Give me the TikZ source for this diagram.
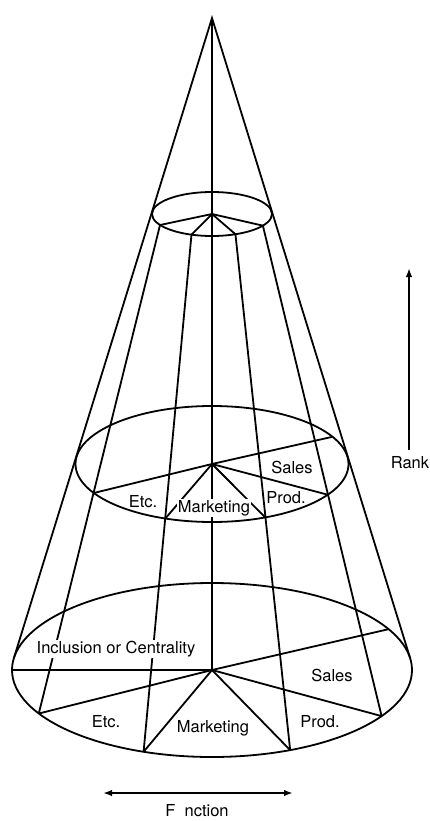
\documentclass[tikz,border=0pt]{standalone}
\usepackage{fontspec}
\setmainfont{TeX Gyre Heros}
\usetikzlibrary{calc,arrows.meta}

\begin{document}
\begin{tikzpicture}[
  x=1pt,
  y=1pt,
  font=\fontsize{16.5}{18}\selectfont,
  >={Latex[length=9pt, width=6.5pt]},
  rim/.style={draw=black, line width=1.8pt},
  spoke/.style={draw=black, line width=1.8pt},
  axisline/.style={draw=black, line width=1.3pt},
  sector/.style={fill=white, inner sep=1pt, anchor=base},
  dimension/.style={draw=black, line width=1.8pt}
]

\useasboundingbox (0,0) rectangle (430,-821);

% Apex and the centres of the three cuts through the cone.
\coordinate (apex) at (212,-18);
\coordinate (ctop) at (212,-214);
\coordinate (cmid) at (212,-464);
\coordinate (cbot) at (212,-670);

% Points on the top cut.
\coordinate (t210) at ($(ctop)+(210:60pt and 22pt)$);
\coordinate (t250) at ($(ctop)+(250:60pt and 22pt)$);
\coordinate (t293) at ($(ctop)+(293:60pt and 22pt)$);
\coordinate (t328) at ($(ctop)+(328:60pt and 22pt)$);

% Points on the middle cut.
\coordinate (m28) at ($(cmid)+(28:136.5pt and 58pt)$);
\coordinate (m210) at ($(cmid)+(210:136.5pt and 58pt)$);
\coordinate (m250) at ($(cmid)+(250:136.5pt and 58pt)$);
\coordinate (m293) at ($(cmid)+(293:136.5pt and 58pt)$);
\coordinate (m328) at ($(cmid)+(328:136.5pt and 58pt)$);

% Points on the bottom cut, with the two tangent points of the outline.
\coordinate (b28) at ($(cbot)+(28:200pt and 87pt)$);
\coordinate (b180) at ($(cbot)+(180:200pt and 87pt)$);
\coordinate (b210) at ($(cbot)+(210:200pt and 87pt)$);
\coordinate (b250) at ($(cbot)+(250:200pt and 87pt)$);
\coordinate (b293) at ($(cbot)+(293:200pt and 87pt)$);
\coordinate (b328) at ($(cbot)+(328:200pt and 87pt)$);
\coordinate (bleft) at ($(cbot)+(172.3:200pt and 87pt)$);
\coordinate (bright) at ($(cbot)+(7.7:200pt and 87pt)$);

\draw[axisline] (apex) -- (cbot);
\draw[rim] (bleft) -- (apex) -- (bright);

\draw[rim] (t210) -- (b210);
\draw[rim] (t250) -- (b250);
\draw[rim] (t293) -- (b293);
\draw[rim] (t328) -- (b328);

\draw[rim] (ctop) ellipse [x radius=60pt, y radius=22pt];
\draw[rim] (cmid) ellipse [x radius=136.5pt, y radius=58pt];
\draw[rim] (cbot) ellipse [x radius=200pt, y radius=87pt];

\draw[spoke] (ctop) -- (t210);
\draw[spoke] (ctop) -- (t250);
\draw[spoke] (ctop) -- (t293);
\draw[spoke] (ctop) -- (t328);

\draw[spoke] (cmid) -- (m28);
\draw[spoke] (cmid) -- (m210);
\draw[spoke] (cmid) -- (m250);
\draw[spoke] (cmid) -- (m293);
\draw[spoke] (cmid) -- (m328);

\draw[spoke] (cbot) -- (b28);
\draw[spoke] (cbot) -- (b180);
\draw[spoke] (cbot) -- (b210);
\draw[spoke] (cbot) -- (b250);
\draw[spoke] (cbot) -- (b293);
\draw[spoke] (cbot) -- (b328);

% Sector labels, white so that they break the lines behind them.
\node[sector] (msales) at (292,-473) {Sales};
\node[sector] (mprod) at (286,-503) {Prod.};
\node[sector] (mmarketing) at (214,-512) {Marketing};
\node[sector] (metc) at (143,-507) {Etc.};

\node[sector] (inclusion) at (116,-653) {Inclusion or Centrality};
\node[sector] (bsales) at (332,-681) {Sales};
\node[sector] (bprod) at (320,-727) {Prod.};
\node[sector] (bmarketing) at (213,-732) {Marketing};
\node[sector] (betc) at (106,-727) {Etc.};

% Dimension arrows.
\node[sector] (rank) at (410,-468) {Rank};
\coordinate (rankfoot) at (409,-450);
\coordinate (rankhead) at (409,-268);
\draw[dimension, ->] (rankfoot) -- (rankhead);

\node[sector] (function) at (197,-816) {F\ \ nction};
\coordinate (fnleft) at (103,-793);
\coordinate (fnright) at (293,-793);
\draw[dimension, <->] (fnleft) -- (fnright);

\end{tikzpicture}
\end{document}
